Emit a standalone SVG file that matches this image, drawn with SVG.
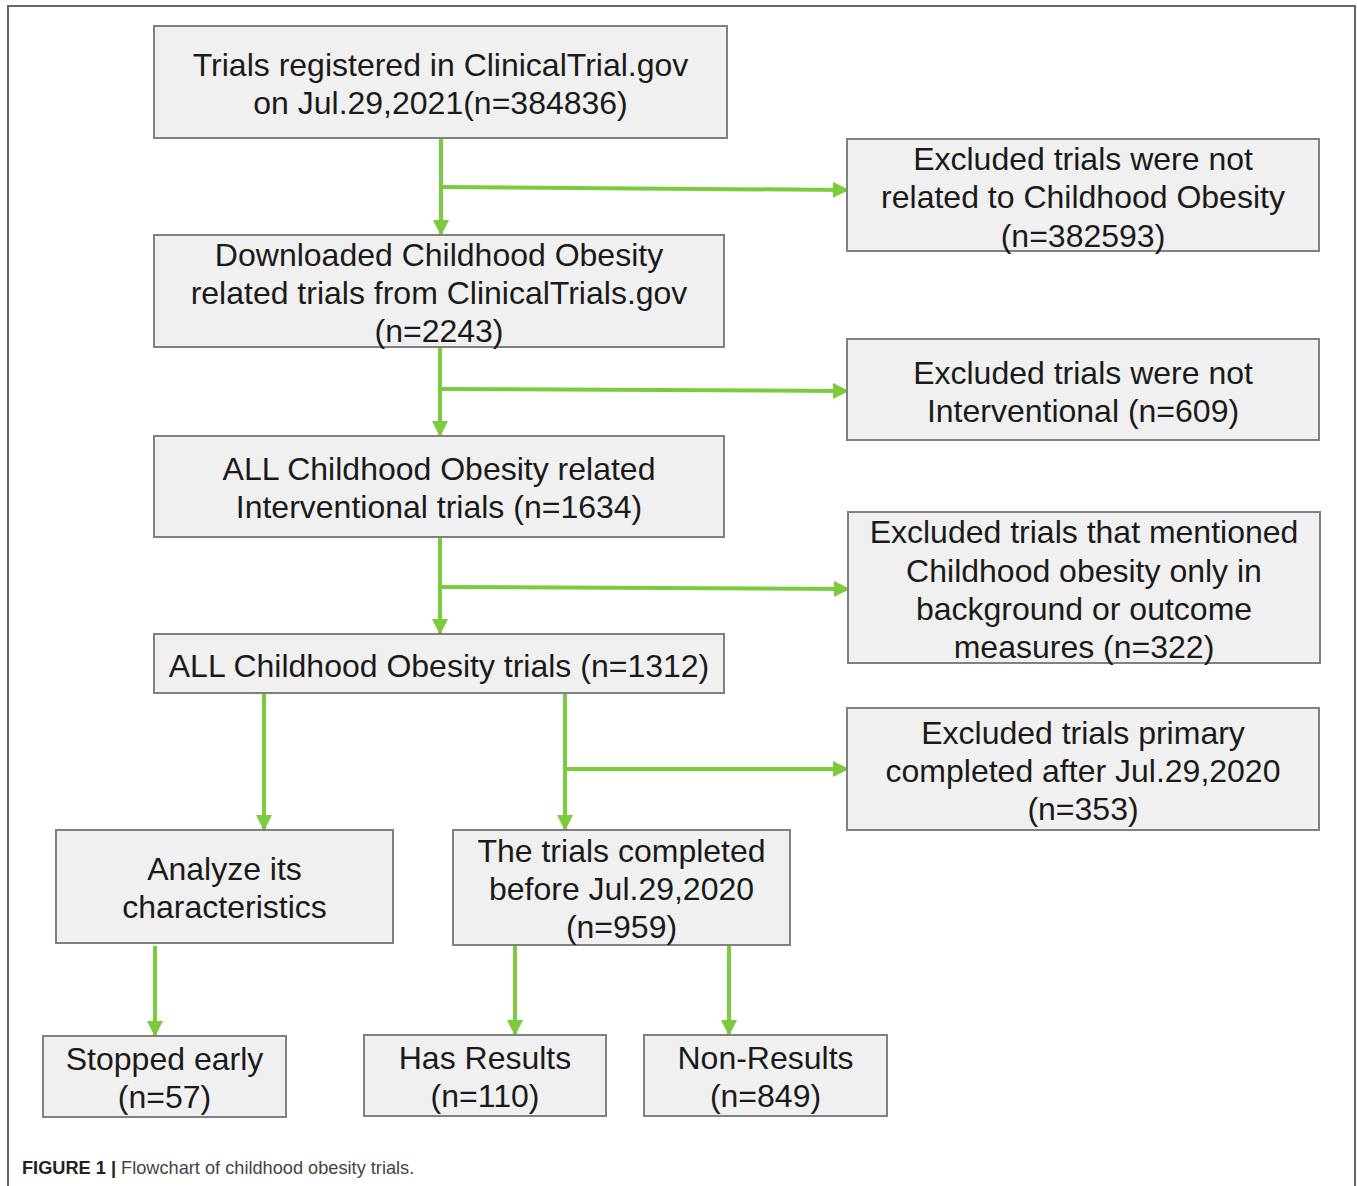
<svg xmlns="http://www.w3.org/2000/svg" width="1357" height="1186" viewBox="0 0 1357 1186">
<style>
.box{fill:#f0f0f0;stroke:#808080;stroke-width:2}
.t{font-family:"Liberation Sans",Arial,sans-serif;font-size:32px;fill:#1a1a1a;text-anchor:middle}
.c{fill:none;stroke:#7ccb3f;stroke-width:4}
.cap{font-family:"Liberation Sans",Arial,sans-serif;font-size:18.2px;fill:#444}
</style>
<defs>
<marker id="ah" markerUnits="userSpaceOnUse" markerWidth="16" markerHeight="16" refX="14" refY="8" orient="auto">
<path d="M0,0 L16,8 L0,16 Z" fill="#7ccb3f"/>
</marker>
</defs>
<rect x="0" y="0" width="1357" height="1186" fill="#fff"/>
<path d="M8,1186 V6 H1355 V1186" fill="none" stroke="#666" stroke-width="2"/>
<g id="connectors">
<path class="c" d="M441,139 V234" marker-end="url(#ah)"/>
<path class="c" d="M441,187 L847,190" marker-end="url(#ah)"/>
<path class="c" d="M440,348 V435" marker-end="url(#ah)"/>
<path class="c" d="M440,389 L847,391" marker-end="url(#ah)"/>
<path class="c" d="M440,538 V633" marker-end="url(#ah)"/>
<path class="c" d="M440,587 L848,589" marker-end="url(#ah)"/>
<path class="c" d="M264,694 V829" marker-end="url(#ah)"/>
<path class="c" d="M565,694 V829" marker-end="url(#ah)"/>
<path class="c" d="M565,769 L847,769" marker-end="url(#ah)"/>
<path class="c" d="M155,946 V1035" marker-end="url(#ah)"/>
<path class="c" d="M515,946 V1034" marker-end="url(#ah)"/>
<path class="c" d="M729,946 V1034" marker-end="url(#ah)"/>
</g>
<g id="n1"><rect class="box" x="154" y="26" width="573" height="112"/>
<text class="t" x="440.5" y="76">Trials registered in ClinicalTrial.gov</text>
<text class="t" x="440.5" y="114">on Jul.29,2021(n=384836)</text></g>
<g id="n2"><rect class="box" x="847" y="139" width="472" height="112"/>
<text class="t" x="1083" y="170">Excluded trials were not</text>
<text class="t" x="1083" y="208">related to Childhood Obesity</text>
<text class="t" x="1083" y="247">(n=382593)</text></g>
<g id="n3"><rect class="box" x="154" y="235" width="570" height="112"/>
<text class="t" x="439" y="266">Downloaded Childhood Obesity</text>
<text class="t" x="439" y="304">related trials from ClinicalTrials.gov</text>
<text class="t" x="439" y="342">(n=2243)</text></g>
<g id="n4"><rect class="box" x="847" y="339" width="472" height="101"/>
<text class="t" x="1083" y="384">Excluded trials were not</text>
<text class="t" x="1083" y="422">Interventional (n=609)</text></g>
<g id="n5"><rect class="box" x="154" y="436" width="570" height="101"/>
<text class="t" x="439" y="480">ALL Childhood Obesity related</text>
<text class="t" x="439" y="518">Interventional trials (n=1634)</text></g>
<g id="n6"><rect class="box" x="848" y="512" width="472" height="151"/>
<text class="t" x="1084" y="543">Excluded trials that mentioned</text>
<text class="t" x="1084" y="582">Childhood obesity only in</text>
<text class="t" x="1084" y="620">background or outcome</text>
<text class="t" x="1084" y="658">measures (n=322)</text></g>
<g id="n7"><rect class="box" x="154" y="634" width="570" height="59"/>
<text class="t" x="439" y="677">ALL Childhood Obesity trials (n=1312)</text></g>
<g id="n8"><rect class="box" x="847" y="708" width="472" height="122"/>
<text class="t" x="1083" y="744">Excluded trials primary</text>
<text class="t" x="1083" y="782">completed after Jul.29,2020</text>
<text class="t" x="1083" y="820">(n=353)</text></g>
<g id="n9"><rect class="box" x="56" y="830" width="337" height="113"/>
<text class="t" x="224.5" y="880">Analyze its</text>
<text class="t" x="224.5" y="918">characteristics</text></g>
<g id="n10"><rect class="box" x="453" y="830" width="337" height="115"/>
<text class="t" x="621.5" y="862">The trials completed</text>
<text class="t" x="621.5" y="900">before Jul.29,2020</text>
<text class="t" x="621.5" y="938">(n=959)</text></g>
<g id="n11"><rect class="box" x="43" y="1036" width="243" height="81"/>
<text class="t" x="164.5" y="1070">Stopped early</text>
<text class="t" x="164.5" y="1108">(n=57)</text></g>
<g id="n12"><rect class="box" x="364" y="1035" width="242" height="81"/>
<text class="t" x="485" y="1069">Has Results</text>
<text class="t" x="485" y="1107">(n=110)</text></g>
<g id="n13"><rect class="box" x="644" y="1035" width="243" height="81"/>
<text class="t" x="765.5" y="1069">Non-Results</text>
<text class="t" x="765.5" y="1107">(n=849)</text></g>
<text class="cap" x="22" y="1174"><tspan font-weight="bold" fill="#222">FIGURE 1 |</tspan> Flowchart of childhood obesity trials.</text>
</svg>
